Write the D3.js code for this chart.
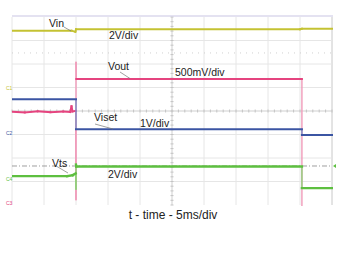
<!DOCTYPE html>
<html>
<head>
<meta charset="utf-8">
<script src="https://cdn.jsdelivr.net/npm/d3@7"></script>
<style>
  body { margin: 0; background: #fff; }
  svg { display: block; font-family: "Liberation Sans", Arial, sans-serif; }
</style>
</head>
<body>
<div id="chart"></div>
<script>
// time in ms (5 ms/div, 10 divs), level in screen divisions (8 divs)
const vin    = [[0, 3.42], [9.3, 3.42], [9.9, 3.37], [10, 3.48], [45, 3.48], [45.3, 3.5], [50, 3.5]];
const vout   = [[0, -0.03], [2, -0.06], [4, -0.01], [6, -0.05], [8, -0.02], [9.1, -0.04],
                [9.3, 0.2], [9.45, -0.02], [9.95, 0.0], [10, -3.8], [10, 2.1], [10.05, 1.36],
                [45.3, 1.36], [45.3, -4.1]];
const viset  = [[0, 0.5], [10, 0.5], [10, -0.78], [45.3, -0.78], [45.3, -1.02], [50, -1.02]];
const vts    = [[0, -2.77], [8.6, -2.77], [9.5, -2.73], [9.95, -2.66], [10, -3.35], [10, -2.28],
                [10.05, -2.36], [45.3, -2.36], [45.3, -3.28], [50, -3.28]];
const refDotted = 2.47;
const trigLevel = -2.34;

const traces = [
  {name: "Vin",   data: vin,   color: "#c4c232", edge: "#dcdb8a", w: 2},
  {name: "Vout",  data: vout,  color: "#e5447f", edge: "#f09ab9", w: 2},
  {name: "Viset", data: viset, color: "#3b55a3", edge: "#7b8cc4", w: 2},
  {name: "Vts",   data: vts,   color: "#5dbf3f", edge: "#8fd27a", w: 2.4}
];

const labels = [
  {text: "Vin",       x: 49,  y: 27},
  {text: "2V/div",    x: 109, y: 39},
  {text: "Vout",      x: 108, y: 70},
  {text: "500mV/div", x: 175, y: 76},
  {text: "Viset",     x: 94,  y: 121},
  {text: "1V/div",    x: 140, y: 127},
  {text: "Vts",       x: 52,  y: 167},
  {text: "2V/div",    x: 108, y: 178}
];
const leaders = [
  [64, 27, 71, 31],
  [120, 72, 130, 78.5],
  [95, 124, 113, 129],
  [57, 166.5, 68, 173]
];
const chMarks = [
  {text: "C1", y: 88,  color: "#c4c232"},
  {text: "C2", y: 133, color: "#3b55a3"},
  {text: "C4", y: 179, color: "#5dbf3f"},
  {text: "C3", y: 203, color: "#e5447f"}
];

const W = 338, H = 254;
const svg = d3.select("#chart").append("svg").attr("width", W).attr("height", H);

const x = d3.scaleLinear().domain([0, 50]).range([12, 332]);
const y = d3.scaleLinear().domain([-4, 4]).range([205, 17]);

svg.append("defs").append("clipPath").attr("id", "plot")
  .append("rect").attr("x", 12).attr("y", 16).attr("width", 321).attr("height", 190);

// grid
const grid = svg.append("g");
grid.selectAll(".gx").data(d3.range(0, 51, 5)).enter().append("line")
  .attr("x1", d => x(d)).attr("x2", d => x(d)).attr("y1", 17).attr("y2", 205)
  .attr("stroke", d => d === 25 ? "#cfcfcf" : (d === 50 ? "#c8c8c8" : "#e6e6e6")).attr("stroke-width", 1);
grid.selectAll(".gy").data(d3.range(-3, 4, 1)).enter().append("line")
  .attr("x1", 12).attr("x2", 332).attr("y1", d => y(d)).attr("y2", d => y(d))
  .attr("stroke", d => d === 0 ? "#cfcfcf" : "#e6e6e6").attr("stroke-width", 1);

// minor ticks on center lines
grid.selectAll(".tx").data(d3.range(0, 50.01, 1)).enter().append("line")
  .attr("x1", d => x(d)).attr("x2", d => x(d)).attr("y1", y(0) - 1.5).attr("y2", y(0) + 1.5)
  .attr("stroke", "#c4c4c4");
grid.selectAll(".ty").data(d3.range(-4, 4.01, 0.2)).enter().append("line")
  .attr("x1", x(25) - 1.5).attr("x2", x(25) + 1.5).attr("y1", d => y(d)).attr("y2", d => y(d))
  .attr("stroke", "#c4c4c4");

// top border
svg.append("line").attr("x1", 12).attr("x2", 333).attr("y1", 16).attr("y2", 16)
  .attr("stroke", "#c9c6e3").attr("stroke-width", 1.2);

// reference lines
svg.append("line").attr("x1", 12).attr("x2", 332).attr("y1", y(refDotted)).attr("y2", y(refDotted))
  .attr("stroke", "#d0d0d0").attr("stroke-dasharray", "1,5");
svg.append("line").attr("x1", 12).attr("x2", 332).attr("y1", y(trigLevel)).attr("y2", y(trigLevel))
  .attr("stroke", "#888").attr("stroke-width", 0.8).attr("stroke-dasharray", "5,2,1,2");

// traces: split into fast edges (thin, faded) and flat parts
const plot = svg.append("g").attr("clip-path", "url(#plot)");
traces.forEach(tr => {
  const segs = d3.pairs(tr.data);
  const isEdge = s => Math.abs(x(s[1][0]) - x(s[0][0])) < 0.5 && Math.abs(y(s[1][1]) - y(s[0][1])) > 3;
  plot.selectAll(null).data(segs.filter(isEdge)).enter().append("line")
    .attr("x1", s => x(s[0][0])).attr("y1", s => y(s[0][1]))
    .attr("x2", s => x(s[1][0])).attr("y2", s => y(s[1][1]))
    .attr("stroke", tr.edge).attr("stroke-width", 1.4);
  plot.selectAll(null).data(segs.filter(s => !isEdge(s))).enter().append("line")
    .attr("x1", s => x(s[0][0])).attr("y1", s => y(s[0][1]))
    .attr("x2", s => x(s[1][0])).attr("y2", s => y(s[1][1]))
    .attr("stroke", tr.color).attr("stroke-width", tr.w).attr("stroke-linecap", "square");
});

// labels
svg.selectAll(".lbl").data(labels).enter().append("text")
  .attr("x", d => d.x).attr("y", d => d.y)
  .attr("font-size", "10.5px").attr("fill", "#222")
  .text(d => d.text);
svg.selectAll(".ldr").data(leaders).enter().append("line")
  .attr("x1", d => d[0]).attr("y1", d => d[1]).attr("x2", d => d[2]).attr("y2", d => d[3])
  .attr("stroke", "#777").attr("stroke-width", 0.7);

// channel markers
svg.selectAll(".ch").data(chMarks).enter().append("text")
  .attr("x", 6).attr("y", d => d.y + 2)
  .attr("font-size", "5px").attr("fill", d => d.color)
  .text(d => d.text);

// trigger marker
svg.append("path")
  .attr("d", `M${x(50) + 1},${y(trigLevel)} l3,-2 l0,4 z`)
  .attr("fill", "#5dbf3f");

svg.append("text")
  .attr("x", 173).attr("y", 219)
  .attr("text-anchor", "middle")
  .attr("font-size", "12px").attr("fill", "#222")
  .text("t - time - 5ms/div");
</script>
</body>
</html>
